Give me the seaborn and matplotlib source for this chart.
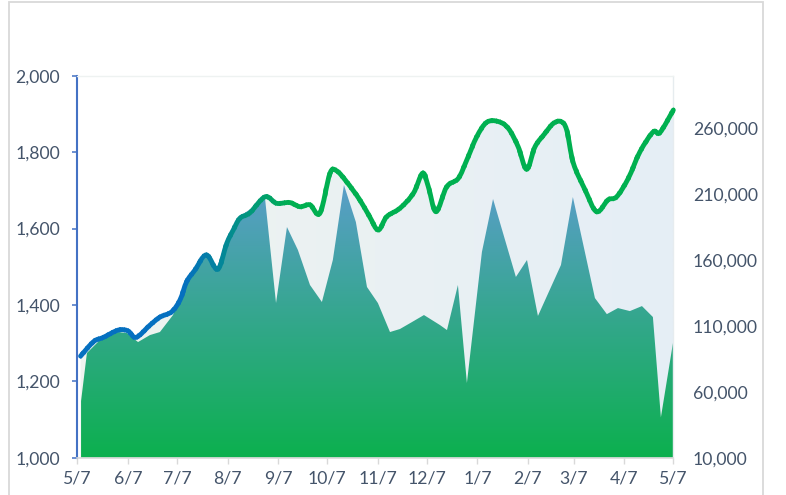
import numpy as np
import pandas as pd
import matplotlib
matplotlib.use("Agg")
import matplotlib.pyplot as plt
import seaborn as sns
import matplotlib.dates as mdates
from matplotlib.path import Path
from matplotlib.patches import PathPatch, Rectangle
from matplotlib.colors import to_rgb
from matplotlib.transforms import Bbox, TransformedBbox

# ---------------- data ----------------
start_date = "2022-05-07"
end_date = "2023-05-07"

price_day = [2, 10, 16, 25, 31, 36, 44.5, 50.6, 57.8, 62.9,
             67, 72, 79, 86, 91.5, 95.5, 99.6, 105.7, 115, 122,
             130, 136.4, 142.5, 148.6, 154.7, 158.8, 165, 173, 179, 184.3,
             189.5, 197.6, 205.8, 211.5, 215, 219.7, 226.2, 233.3, 238.5, 244.6,
             250.7, 257.8, 264, 270, 275.2, 280.3, 286.4, 291.5, 296.2, 299.7,
             303.8, 311, 318, 325, 330.3, 337.4, 344.6, 352.7, 356.8, 365]
price = [1266, 1304, 1315, 1334, 1332, 1315, 1347, 1368, 1382, 1413,
         1461, 1491, 1531, 1493, 1561, 1596, 1627, 1641, 1683, 1666,
         1668, 1657, 1662, 1640, 1744, 1751, 1722, 1675, 1631, 1596,
         1631, 1653, 1692, 1745, 1709, 1644, 1709, 1731, 1779, 1840,
         1878, 1880, 1862, 1814, 1755, 1814, 1849, 1875, 1880, 1858,
         1771, 1701, 1644, 1675, 1683, 1731, 1801, 1853, 1851, 1910]

vol_day = [2.3, 5.9, 13.9, 24.9, 30.4, 37.2, 44.5, 50.6, 58.6, 66,
           72.7, 79.5, 85.5, 92.3, 99.6, 107, 115, 121.7, 128.4, 135.1,
           142.5, 149.8, 156.5, 163.3, 170.6, 177.4, 184.1, 191.5, 197.6, 205,
           212.3, 222.1, 226.4, 233.1, 238.6, 247.8, 254.6, 268.6, 275.4, 282.1,
           296.2, 303.5, 317, 324.3, 331.1, 338.4, 345.8, 352.5, 357.4, 364.8]
vol = [53000, 89500, 99400, 105400, 104600, 97800, 103100, 105400, 118300, 143400,
       154000, 163100, 154000, 179000, 193500, 199500, 206400, 127400, 185100, 167700,
       141100, 128200, 160100, 217000, 188900, 139600, 127400, 105400, 107700, 113000,
       118300, 110700, 106900, 141100, 66700, 166200, 206400, 147200, 160100, 117600,
       156300, 207900, 131200, 119000, 123600, 121300, 125100, 116800, 40600, 97100]

left_ticks = [1000, 1200, 1400, 1600, 1800, 2000]
right_ticks = [10000, 60000, 110000, 160000, 210000, 260000]

# ---------------- style ----------------
sns.set_theme(style="white")
plt.rcParams["font.family"] = ["Lato", "DejaVu Sans"]
TXT = "#44546a"
BLUE_LINE = to_rgb("#0570c0")
GREEN_LINE = to_rgb("#00b050")

fig = plt.figure(figsize=(7.86, 4.95), dpi=100)
W, H = 786, 495
ax = fig.add_axes([77.3 / W, (H - 457.7) / H, (673.3 - 77.3) / W, (457.7 - 75.7) / H])
ax2 = ax.twinx()

t0 = pd.Timestamp(start_date)
px = mdates.date2num(t0 + pd.to_timedelta(price_day, unit="D"))
vx = mdates.date2num(t0 + pd.to_timedelta(vol_day, unit="D"))
x0n = mdates.date2num(t0)
x1n = mdates.date2num(pd.Timestamp(end_date))

# seaborn draws the volume series (outline) on the right axis
sns.lineplot(x=vx, y=vol, ax=ax2, color="#3aa88a", linewidth=0.0, legend=False)

# ---- smooth price curve (Catmull-Rom -> cubic Bezier path) ----
P = np.column_stack([px, price]).astype(float)
Pe = np.vstack([P[0], P, P[-1]])
verts = [P[0]]
codes = [Path.MOVETO]
for i in range(1, len(Pe) - 2):
    p0, p1, p2, p3 = Pe[i - 1], Pe[i], Pe[i + 1], Pe[i + 2]
    c1 = p1 + (p2 - p0) / 6.0
    c2 = p2 - (p3 - p1) / 6.0
    verts += [c1, c2, p2]
    codes += [Path.CURVE4] * 3
curve = Path(verts, codes)
area_path = Path(verts + [[px[-1], 1000], [px[0], 1000], [px[0], 1000]],
                 codes + [Path.LINETO, Path.LINETO, Path.CLOSEPOLY])

# ---- pale area under the line (gradient) ----
c_left = np.array(to_rgb("#eff4f0"))
c_right = np.array(to_rgb("#e5eef6"))
g = np.linspace(0, 1, 256)[None, :, None]
pale = c_left[None, None, :] * (1 - g) + c_right[None, None, :] * g
im1 = ax2.imshow(pale, extent=(x0n, x1n, 10000, 300000), aspect="auto",
                 origin="lower", interpolation="bilinear", zorder=1)
im1.set_clip_path(PathPatch(area_path, transform=ax.transData))

# ---- volume area (vertical gradient) ----
poly = ax2.fill_between(vx, vol, 10000, facecolor="none", edgecolor="none")
c_top = np.array(to_rgb("#5a9ec9"))
c_bot = np.array(to_rgb("#0cb04e"))
gv = np.linspace(0, 1, 256)[:, None, None]
dark = c_bot[None, None, :] * (1 - gv) + c_top[None, None, :] * gv
im2 = ax2.imshow(dark, extent=(x0n, x1n, 10000, max(vol)), aspect="auto",
                 origin="lower", interpolation="bilinear", zorder=2)
im2.set_clip_path(poly.get_paths()[0], ax2.transData)

# ---- price line with horizontal colour gradient ----
def line_color(t):
    a, b = 0.18, 0.36
    f = min(max((t - a) / (b - a), 0.0), 1.0)
    return tuple(np.array(BLUE_LINE) * (1 - f) + np.array(GREEN_LINE) * f)

N = 140
edges = np.linspace(x0n - 3, x1n + 3, N + 1)
step = edges[1] - edges[0]
for i in range(N):
    mid = 0.5 * (edges[i] + edges[i + 1])
    t = (mid - x0n) / (x1n - x0n)
    pp = PathPatch(curve, fill=False, edgecolor=line_color(t), linewidth=3.5,
                   capstyle="round", joinstyle="round",
                   transform=ax.transData, zorder=4)
    ax2.add_patch(pp)
    bb = TransformedBbox(Bbox([[edges[i] - 0.15 * step, 0], [edges[i + 1] + 0.15 * step, 5000]]),
                         ax.transData)
    pp.set_clip_box(bb)

# ---------------- axes ----------------
ax.set_xlim(x0n, x1n)
ax.set_ylim(1000, 2000)
ax2.set_xlim(x0n, x1n)
ax2.set_ylim(10000, 300000)

month_ticks = pd.date_range(start_date, end_date, freq=pd.DateOffset(months=1))
ax.set_xticks(mdates.date2num(month_ticks))
ax.set_xticklabels([f"{d.month}/{d.day}" for d in month_ticks])
ax.set_yticks(left_ticks)
ax.set_yticklabels([f"{v:,}" for v in left_ticks])
ax2.set_yticks(right_ticks)
ax2.set_yticklabels([f"{v:,}" for v in right_ticks])

fs = 12.7
ax.tick_params(axis="y", which="both", left=True, direction="out", length=3.6, width=1.1,
               color="#4472c4", labelcolor=TXT, labelsize=fs, pad=9)
ax.tick_params(axis="x", which="both", bottom=True, direction="out", length=4.3, width=1.0,
               color="#d9d9d9", labelcolor=TXT, labelsize=fs, pad=5)
ax2.tick_params(axis="y", right=True, length=0, labelcolor=TXT, labelsize=fs, pad=14)
ax2.grid(False)
ax.grid(False)

for s in ["top", "right", "left", "bottom"]:
    ax.spines[s].set_visible(False)
ax2.spines["left"].set_color("#4472c4")
ax2.spines["left"].set_linewidth(1.5)
ax2.spines["bottom"].set_color("#d9d9d9")
ax2.spines["bottom"].set_linewidth(1.2)
ax2.spines["top"].set_color("#eef2f1")
ax2.spines["top"].set_linewidth(1.0)
ax2.spines["right"].set_color("#e6ecef")
ax2.spines["right"].set_linewidth(1.0)
for s in ax2.spines.values():
    s.set_zorder(3)

ax.set_xlabel("")
ax.set_ylabel("")
ax2.set_xlabel("")
ax2.set_ylabel("")

# outer chart frame
fig.add_artist(Rectangle((9 / W, -0.05), (763 - 9) / W, (H - 1.5) / H + 0.05,
                         transform=fig.transFigure, fill=False,
                         edgecolor="#d9d9d9", linewidth=1.3))

fig.savefig("out.png", dpi=100, facecolor="white")
